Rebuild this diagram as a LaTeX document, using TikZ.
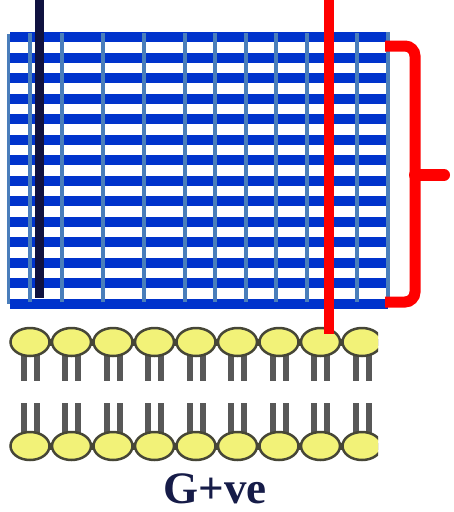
\documentclass[tikz,border=0pt]{standalone}
\usepackage{fontspec}
\setmainfont{Liberation Serif}
\definecolor{barblue}{RGB}{0,51,204}
\definecolor{gridblue}{RGB}{74,126,187}
\definecolor{navyline}{RGB}{16,18,64}
\definecolor{headfill}{RGB}{242,242,120}
\definecolor{headline}{RGB}{70,70,55}
\definecolor{tailgray}{RGB}{88,88,88}
\definecolor{textnavy}{RGB}{22,28,72}
\begin{document}
\begin{tikzpicture}[x=1pt,y=-1pt,
  gridline/.style={draw=gridblue,line width=3.5pt},
  headshape/.style={fill=headfill,draw=headline,line width=2.5pt},
  neck/.style={draw=headline,line width=7pt},
  tail/.style={fill=tailgray},
  marker/.style={line width=10pt}]
\useasboundingbox (0,0) rectangle (454,512);

% peptidoglycan layers: horizontal strands
\foreach \k in {0,...,13}
  \fill[barblue] (10,{32+20.5*\k}) rectangle (388,{42+20.5*\k});
% cross-links
\foreach \x in {30,62,103,144,185,215,246,276,307,357}
  \draw[gridline] (\x,33) -- (\x,302);
\draw[gridline] (8.5,34) -- (8.5,304);
\draw[gridline] (388,32) -- (388,302);

% plasma membrane (lipid bilayer)
\begin{scope}
  \clip (0,300) rectangle (378,470);
  \foreach \k in {0,...,8} {
    \pgfmathsetmacro{\cx}{30+41.5*\k}
    \fill[tail] (\cx-9.5,350) rectangle (\cx-3.5,381);
    \fill[tail] (\cx+3.5,350) rectangle (\cx+9.5,381);
    \fill[tail] (\cx-9.5,403) rectangle (\cx-3.5,440);
    \fill[tail] (\cx+3.5,403) rectangle (\cx+9.5,440);
  }
  \draw[neck] (10,342) -- (380,342);
  \draw[neck] (10,446) -- (380,446);
  \foreach \k in {0,...,8} {
    \pgfmathsetmacro{\cx}{30+41.5*\k}
    \filldraw[headshape] (\cx,342) ellipse (19.5 and 14);
    \filldraw[headshape] (\cx,446) ellipse (19.5 and 14);
  }
\end{scope}

% markers
\draw[navyline,line width=9pt] (39.5,0) -- (39.5,298);
\draw[red,marker] (329,0) -- (329,334);

% brace
\draw[red,line width=11pt,rounded corners=10pt] (385,46) -- (415,46) -- (415,302) -- (385,302);
\draw[red,line width=12pt,line cap=round] (415,175) -- (444,175);

\node[text=textnavy,font=\bfseries\fontsize{45}{45}\selectfont,anchor=base,inner sep=0pt] (label) at (215,503) {G+ve};
\end{tikzpicture}
\end{document}
